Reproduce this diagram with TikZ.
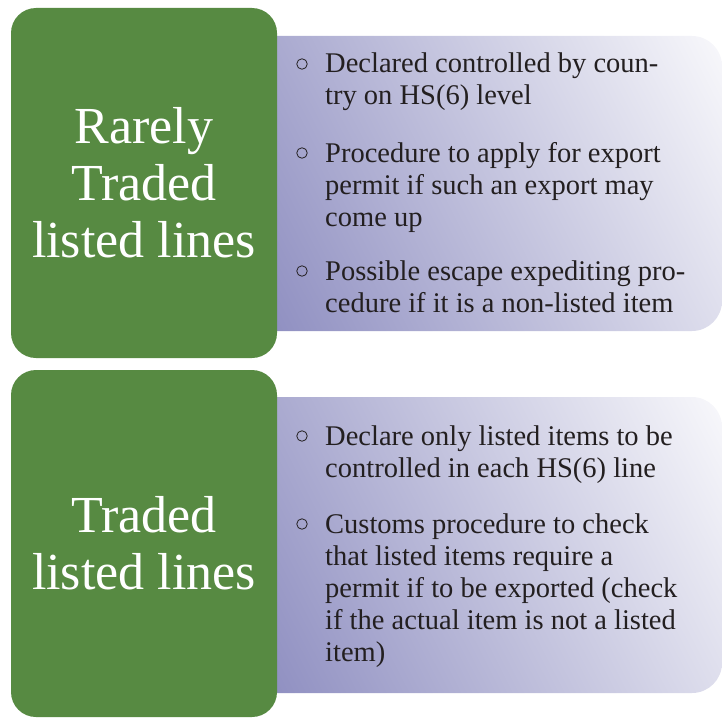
\documentclass[tikz,border=0pt]{standalone}
\usepackage{fontspec}
\setmainfont{Liberation Serif}
\usetikzlibrary{positioning}
\definecolor{leafgreen}{RGB}{87,138,66}
\definecolor{panelpurple}{RGB}{116,116,178}
\definecolor{panelwhite}{RGB}{255,255,255}
\definecolor{inktext}{RGB}{35,31,32}
\pgfdeclareverticalshading{panelfade}{100bp}{color(0bp)=(panelpurple); color(88bp)=(panelwhite); color(100bp)=(panelwhite)}

\begin{document}
\begin{tikzpicture}[x=1pt,y=-1pt,
	greenbox/.style={fill=leafgreen,rounded corners=25pt,minimum width=266pt,inner sep=0pt,text=white,align=center,font=\fontsize{52}{57}\selectfont},
	panel/.style={shading=panelfade,shading angle=-63},
	item/.style={anchor=base west,inner sep=0pt,text=inktext,font=\fontsize{28.5}{32}\selectfont},
	bulletmark/.style={circle,draw=inktext,line width=0.8pt,minimum size=10.5pt,inner sep=0pt}]
	\useasboundingbox (0,0) rectangle (722,717);
	
	% first row
	\shade[panel] (262,36) [rounded corners=30pt] -- (722,36) -- (722,331) [sharp corners] -- (262,331) -- cycle;
	\node[greenbox,minimum height=350pt] (rare) at (144,183) {Rarely\\Traded\\listed lines};
	\node[item] (a1) at (325,73) {\begin{tabular}[t]{@{}l@{}}Declared controlled by coun-\\try on HS(6) level\end{tabular}};
	\node[item] (a2) at (325,162) {\begin{tabular}[t]{@{}l@{}}Procedure to apply for export\\permit if such an export may\\come up\end{tabular}};
	\node[item] (a3) at (325,280) {\begin{tabular}[t]{@{}l@{}}Possible escape expediting pro-\\cedure if it is a non-listed item\end{tabular}};
	\node[bulletmark] (a1b) at ([xshift=-23pt,yshift=9pt]a1.base west) {};
	\node[bulletmark] (a2b) at ([xshift=-23pt,yshift=9pt]a2.base west) {};
	\node[bulletmark] (a3b) at ([xshift=-23pt,yshift=9pt]a3.base west) {};
	
	% second row
	\shade[panel] (262,397) [rounded corners=30pt] -- (722,397) -- (722,693) [sharp corners] -- (262,693) -- cycle;
	\node[greenbox,minimum height=347pt] (traded) at (144,543.5) {Traded\\listed lines};
	\node[item] (b1) at (325,445) {\begin{tabular}[t]{@{}l@{}}Declare only listed items to be\\controlled in each HS(6) line\end{tabular}};
	\node[item] (b2) at (325,533) {\begin{tabular}[t]{@{}l@{}}Customs procedure to check\\that listed items require a\\permit if to be exported (check\\if the actual item is not a listed\\item)\end{tabular}};
	\node[bulletmark] (b1b) at ([xshift=-23pt,yshift=9pt]b1.base west) {};
	\node[bulletmark] (b2b) at ([xshift=-23pt,yshift=9pt]b2.base west) {};
\end{tikzpicture}
\end{document}
